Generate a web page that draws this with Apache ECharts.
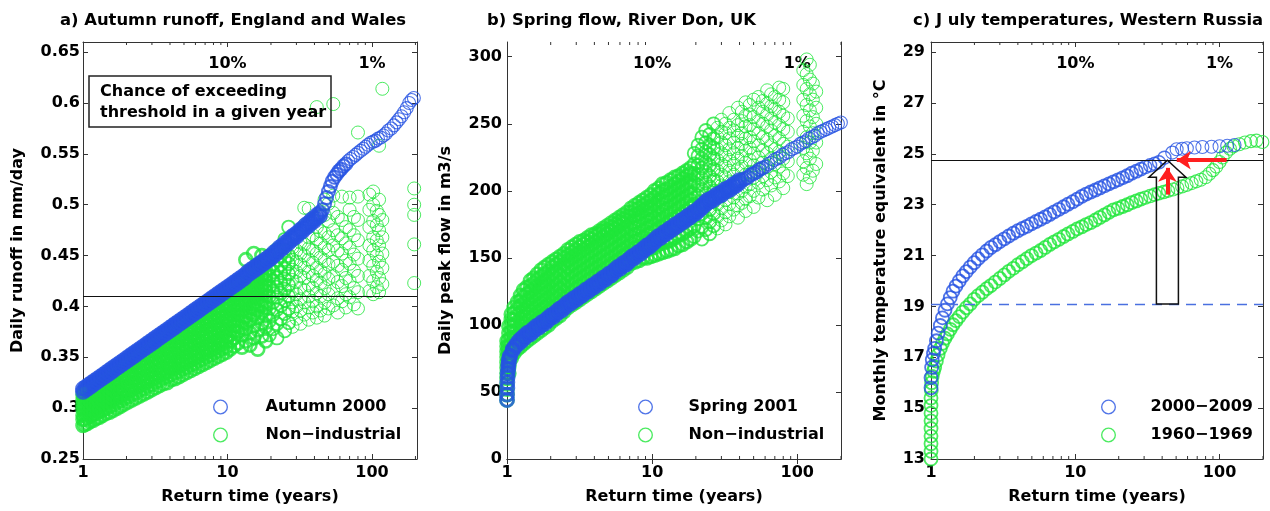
<!DOCTYPE html>
<html>
<head>
<meta charset="utf-8">
<script src="https://cdn.jsdelivr.net/npm/echarts@6/dist/echarts.min.js"></script>
<style>
html, body { margin: 0; padding: 0; background: #fff; }
#chart { width: 1270px; height: 511px; }
</style>
</head>
<body>
<div id="chart"></div>
<script>
// ---------- tick values and labels ----------
const returnTicks = [1, 10, 100];
const minorReturnTicks = [2, 3, 4, 5, 6, 7, 8, 9, 20, 30, 40, 50, 60, 70, 80, 90, 200];
const exceedTicks = [10, 100];
const exceedLabels = ['10%', '1%'];
const runoffTicks = [0.25, 0.3, 0.35, 0.4, 0.45, 0.5, 0.55, 0.6, 0.65];
const flowTicks = [0, 50, 100, 150, 200, 250, 300];
const tempTicks = [13, 15, 17, 19, 21, 23, 25, 27, 29];

// ---------- reference levels ----------
const runoffThreshold = 0.411;
const heatThreshold = 24.75;
const baselineTemp = 19.1;
// hollow arrow: return time, bottom, tip
const heatArrow = [43.5, 19.1, 24.75];
// red arrows: [[x0, y0], [x1, y1]]
const riseArrow = [[43.5, 23.4], [43.5, 24.45]];
const shiftArrow = [[112, 24.75], [50.5, 24.75]];

// ---------- a) Autumn runoff: [return time, [runoff values]] ----------
const autumn2000 = [
[1.000,[.316,.319]],[1.047,[.318,.321]],[1.096,[.320,.323]],[1.148,[.322,.325]],[1.202,[.324,.327]],
[1.259,[.326,.329]],[1.318,[.328,.331]],[1.380,[.330,.333]],[1.445,[.332,.335]],[1.514,[.334,.337]],
[1.585,[.336,.339]],[1.660,[.338,.341]],[1.738,[.340,.343]],[1.820,[.342,.345]],[1.905,[.344,.347]],
[1.995,[.346,.349]],[2.089,[.348,.351]],[2.188,[.350,.353]],[2.291,[.352,.355]],[2.399,[.354,.357]],
[2.512,[.356,.359]],[2.630,[.358,.361]],[2.754,[.360,.363]],[2.884,[.362,.365]],[3.020,[.364,.367]],
[3.162,[.366,.369]],[3.311,[.368,.371]],[3.467,[.370,.373]],[3.631,[.372,.375]],[3.802,[.374,.377]],
[3.981,[.376,.379]],[4.169,[.378,.381]],[4.365,[.380,.383]],[4.571,[.382,.385]],[4.786,[.384,.387]],
[5.012,[.386,.389]],[5.248,[.388,.391]],[5.495,[.390,.393]],[5.754,[.392,.395]],[6.026,[.394,.397]],
[6.310,[.396,.399]],[6.607,[.398,.401]],[6.918,[.400,.403]],[7.244,[.402,.405]],[7.586,[.404,.407]],
[7.943,[.406,.409]],[8.318,[.408,.411]],[8.710,[.410,.413]],[9.120,[.412,.415]],[9.550,[.414,.417]],
[10.00,[.416,.419]],[10.47,[.418,.421]],[10.96,[.420,.423]],[11.48,[.422,.425]],[12.02,[.424,.427]],
[12.59,[.426,.429]],[13.18,[.428,.431]],[13.80,[.431,.434]],[14.45,[.433,.436]],[15.14,[.435,.438]],
[15.85,[.437,.440]],[16.60,[.439,.442]],[17.38,[.441,.444]],[18.20,[.443,.446]],[19.05,[.445,.448]],
[19.95,[.447,.450]],[20.89,[.450,.453]],[21.88,[.452,.455]],[22.91,[.455,.458]],[23.99,[.457,.460]],
[25.12,[.460,.463]],[26.30,[.462,.465]],[27.54,[.465,.468]],[28.84,[.467,.470]],[30.20,[.469,.472]],
[31.62,[.472,.475]],[33.11,[.474,.477]],[34.67,[.477,.480]],[36.31,[.479,.482]],[38.02,[.482,.485]],
[39.81,[.484,.487]],[41.69,[.487,.490]],[43.65,[.489,.492]],
[45.5,[.495]],[47,[.501]],[48.5,[.507]],[50,[.513]],[51.5,[.518]],[53,[.523]],[55,[.527]],[57,[.530]],
[59,[.533]],[61,[.535]],[63.5,[.538]],[66,[.540]],[68.5,[.543]],[71,[.545]],[74,[.547]],[77,[.549]],
[80,[.551]],[83.5,[.553]],[87,[.555]],[90.5,[.557]],[94,[.559]],[98,[.561]],[102,[.562]],[106,[.563]],
[110,[.565]],[115,[.566]],[120,[.568]],[125,[.570]],[130,[.573]],[136,[.575]],[142,[.578]],[148,[.581]],
[154,[.584]],[160,[.587]],[167,[.591]],[174,[.595]],[181,[.600]],[188,[.603]],[195,[.605]]
];

const nonIndustrialA = [
[1.00,[.283,.289,.293,.299,.303,.308,.313]],
[1.03,[.284,.289,.295,.299,.304,.310,.314]],
[1.07,[.285,.291,.295,.300,.306,.310,.315]],
[1.12,[.287,.292,.298,.302,.307,.313,.317]],
[1.18,[.288,.294,.298,.303,.309,.313,.318]],
[1.24,[.290,.295,.301,.305,.310,.316,.320]],
[1.30,[.291,.297,.301,.306,.312,.316,.321]],
[1.37,[.293,.298,.304,.308,.313,.319,.323,.327]],
[1.45,[.295,.300,.306,.310,.315,.321,.325,.329]],
[1.53,[.296,.302,.306,.311,.317,.321,.326,.331]],
[1.62,[.298,.303,.309,.313,.318,.324,.328,.333]],
[1.72,[.300,.306,.310,.315,.321,.325,.330,.335]],
[1.82,[.302,.307,.313,.317,.322,.328,.332,.337]],
[1.93,[.304,.310,.314,.319,.325,.329,.334,.340,.342]],
[2.05,[.306,.311,.317,.321,.326,.332,.336,.341,.344]],
[2.18,[.308,.314,.318,.323,.329,.333,.338,.344,.347]],
[2.32,[.310,.315,.321,.325,.330,.336,.340,.345,.350]],
[2.47,[.312,.318,.322,.327,.333,.337,.342,.348,.352]],
[2.63,[.314,.319,.325,.329,.334,.340,.344,.349,.354]],
[2.80,[.316,.322,.326,.331,.337,.341,.346,.352,.356]],
[2.98,[.318,.323,.329,.333,.338,.344,.348,.353,.358,.361]],
[3.17,[.320,.326,.330,.335,.341,.345,.350,.356,.360,.363]],
[3.37,[.322,.327,.333,.337,.342,.348,.352,.357,.363,.366]],
[3.59,[.324,.330,.334,.339,.345,.349,.354,.360,.364,.368]],
[3.82,[.325,.331,.336,.340,.346,.351,.355,.361,.365,.370]],
[4.07,[.328,.333,.339,.343,.348,.354,.358,.363,.369,.373]],
[4.33,[.329,.335,.339,.344,.350,.354,.359,.365,.369,.374,.377]],
[4.61,[.331,.336,.342,.346,.351,.357,.361,.366,.372,.376,.379]],
[4.91,[.333,.339,.343,.348,.354,.358,.363,.369,.373,.378,.382]],
[5.23,[.335,.340,.346,.350,.355,.361,.365,.370,.376,.380,.385]],
[5.57,[.337,.343,.347,.352,.358,.362,.367,.373,.377,.382,.387]],
[5.93,[.339,.344,.350,.354,.359,.365,.369,.374,.380,.384,.389]],
[6.31,[.341,.347,.351,.356,.362,.366,.371,.377,.381,.386,.391,.393]],
[6.72,[.343,.348,.354,.358,.363,.369,.373,.378,.384,.388,.393,.396]],
[7.16,[.345,.351,.355,.360,.366,.370,.375,.381,.385,.390,.395,.398]],
[7.62,[.347,.352,.358,.362,.367,.373,.377,.382,.388,.392,.397,.401]],
[8.12,[.349,.355,.359,.364,.370,.374,.379,.385,.389,.394,.399,.404]],
[8.65,[.351,.356,.362,.366,.371,.377,.381,.386,.392,.396,.401,.406]],
[9.21,[.353,.359,.363,.368,.374,.378,.383,.389,.393,.398,.403,.408]],
[9.81,[.355,.360,.366,.370,.375,.381,.385,.390,.396,.400,.405,.410]],
[10.4,[.358,.366,.372,.377,.383,.387,.392,.398,.402,.407,.412,.416]],
[11.1,[.361,.369,.376,.381,.386,.392,.396,.401,.407,.411,.416,.420]],
[11.8,[.364,.375,.381,.386,.392,.396,.401,.407,.411,.416,.421,.424]],
[12.6,[.360,.372,.379,.386,.391,.397,.401,.406,.412,.416,.421,.426]],
[13.4,[.366,.378,.384,.390,.395,.401,.405,.410,.416,.420,.425,.429,.446]],
[14.3,[.362,.374,.387,.394,.399,.405,.409,.414,.420,.424,.429,.433]],
[15.2,[.369,.381,.392,.398,.403,.409,.413,.418,.424,.428,.433,.436,.452]],
[16.2,[.358,.377,.389,.397,.402,.408,.412,.417,.423,.427,.432,.438]],
[17.3,[.371,.384,.394,.401,.406,.412,.416,.421,.427,.431,.436,.441,.450]],
[18.4,[.366,.380,.391,.399,.405,.411,.415,.420,.426,.430,.435,.444]],
[19.5,[.372,.386,.398,.410,.420,.430,.438,.450]],
[20.7,[.378,.392,.404,.415,.425,.434,.442]],
[22.0,[.369,.383,.397,.409,.419,.428,.437,.446,.456]],
[23.4,[.388,.401,.413,.423,.433,.441,.450]],
[24.9,[.376,.393,.406,.417,.427,.437,.446,.455,.466]],
[26.5,[.384,.398,.410,.421,.432,.442,.450,.478]],
[28.2,[.380,.395,.404,.415,.426,.436,.446,.458,.468]],
[30.0,[.388,.400,.412,.424,.434,.444,.455,.470]],
[32.0,[.383,.396,.407,.418,.430,.441,.452,.463,.475]],
[34.0,[.392,.404,.416,.428,.438,.450,.461,.480,.497]],
[36.5,[.387,.399,.410,.421,.434,.446,.457,.468,.496]],
[39.0,[.394,.405,.418,.430,.443,.455,.470,.485]],
[41.5,[.389,.400,.413,.426,.438,.452,.466,.478,.596]],
[44.0,[.396,.410,.423,.435,.448,.462,.474,.488]],
[47.0,[.391,.404,.418,.432,.445,.458,.472,.490,.505]],
[50.0,[.398,.412,.427,.441,.455,.468,.484,.501]],
[54.0,[.401,.416,.430,.444,.460,.475,.492,.509,.599]],
[58.0,[.394,.408,.424,.440,.455,.470,.488]],
[62.0,[.405,.420,.436,.452,.467,.485,.508]],
[66.0,[.399,.412,.428,.445,.462,.478]],
[70.0,[.409,.425,.442,.458,.475,.495,.507]],
[75.0,[.402,.418,.435,.451,.470,.488]],
[80.0,[.398,.414,.430,.447,.465,.485,.508,.571]],
[96.0,[.415,.430,.445,.460,.478,.495,.510]],
[102,[.412,.425,.440,.455,.468,.484,.500,.513]],
[108,[.419,.434,.450,.465,.480,.494]],
[112,[.414,.428,.444,.460,.475,.490,.505,.558]],
[118,[.422,.438,.452,.468,.485,.614]],
[196,[.423,.461,.490,.500,.516]]
];

// ---------- b) Spring flow: [return time, [flow values]] ----------
const spring2001 = [
[1.000,[44,48]],[1.005,[53,57]],[1.010,[61,64]],[1.020,[67,70]],[1.030,[72,74]],
[1.047,[76,77]],[1.096,[81,82]],[1.148,[84,85]],[1.202,[86,88]],[1.259,[88,90]],
[1.318,[90,92]],[1.380,[92,94]],[1.445,[93,95]],[1.514,[95,97]],[1.585,[97,99]],
[1.660,[98,100]],[1.738,[100,102]],[1.820,[101,103]],[1.905,[103,105]],[1.995,[105,107]],
[2.089,[106,108]],[2.188,[108,110]],[2.291,[110,112]],[2.399,[111,113]],[2.512,[113,115]],
[2.630,[115,117]],[2.754,[116,118]],[2.884,[118,120]],[3.020,[119,121]],[3.162,[121,123]],
[3.311,[122,124]],[3.467,[124,126]],[3.631,[125,127]],[3.802,[127,129]],[3.981,[128,130]],
[4.169,[130,132]],[4.365,[131,133]],[4.571,[133,135]],[4.786,[134,136]],[5.012,[136,138]],
[5.248,[137,139]],[5.495,[139,141]],[5.754,[141,143]],[6.026,[142,144]],[6.310,[144,146]],
[6.607,[145,147]],[6.918,[147,149]],[7.244,[149,151]],[7.586,[150,152]],[7.943,[152,154]],
[8.318,[153,155]],[8.710,[155,157]],[9.120,[157,159]],[9.550,[158,160]],[10.00,[160,162]],
[10.47,[162,164]],[10.96,[164,166]],[11.48,[165,167]],[12.02,[167,169]],[12.59,[168,170]],
[13.18,[170,172]],[13.80,[171,173]],[14.45,[173,175]],[15.14,[174,176]],[15.85,[176,178]],
[16.60,[177,179]],[17.38,[179,181]],[18.20,[180,182]],[19.05,[182,184]],[19.95,[183,185]],
[20.89,[185,187]],[21.88,[187,189]],[22.91,[189,191]],[23.99,[191,193]],[25.12,[192,194]],
[26.30,[193,195]],[27.54,[195,197]],[28.84,[196,198]],[30.20,[197,199]],[31.62,[199,201]],
[33.11,[200,202]],[34.67,[201,203]],[36.31,[203,205]],[38.02,[204,206]],[39.81,[206,208]],
[41.69,[208]],[43.65,[209]],[45.71,[210]],[47.86,[212]],[50.12,[213]],[52.48,[214]],[54.95,[216]],
[57.54,[217]],[60.26,[218]],[63.10,[220]],[66.07,[221]],[69.18,[223]],[72.44,[224]],[75.86,[225]],
[79.43,[227]],[83.18,[228]],[87.10,[229]],[91.20,[231]],[95.50,[232]],[100.0,[233]],[104.7,[235]],
[109.6,[236]],[114.8,[237]],[120.2,[239]],[125.9,[240]],[131.8,[241]],[138.0,[243]],[144.5,[244]],
[151.4,[245]],[158.5,[246]],[166.0,[247]],[173.8,[248]],[182.0,[249]],[190.5,[250]],[199.5,[251]]
];

const nonIndustrialB = [
[1.00,[44,48,52,56,60,64,68,72,76,80,84,88]],
[1.03,[64,69,74,79,84,89,94,99]],
[1.07,[75,80,85,90,95,100,104,108]],
[1.12,[79,84,89,94,99,104,109,113]],
[1.18,[82,87,92,97,102,107,112,117]],
[1.24,[84,89,94,99,104,109,114,118,122]],
[1.30,[86,91,96,101,106,111,116,121,126]],
[1.37,[88,93,98,103,108,113,118,123,128]],
[1.45,[90,95,100,105,110,115,120,125,129,133]],
[1.53,[92,97,102,107,112,117,122,127,131,135]],
[1.62,[94,99,104,109,114,119,124,129,134,138]],
[1.72,[96,101,106,111,116,121,126,131,136,141]],
[1.82,[98,103,108,113,118,123,128,133,138,143]],
[1.93,[100,105,110,115,120,125,130,135,140,145]],
[2.05,[103,108,113,118,123,128,133,138,143,147]],
[2.18,[105,110,115,120,125,130,135,140,145,149]],
[2.32,[107,112,117,122,127,132,137,142,147,151]],
[2.47,[110,115,120,125,130,135,140,145,150,153]],
[2.63,[113,118,123,128,133,138,143,148,152,156]],
[2.80,[115,120,125,130,135,140,145,150,154,158]],
[2.98,[117,122,127,132,137,142,147,152,156,160]],
[3.17,[119,124,129,134,139,144,149,154,158,162]],
[3.37,[121,126,131,136,141,146,151,156,160,163]],
[3.59,[123,128,133,138,143,148,153,158,162,165]],
[3.82,[125,130,135,140,145,150,155,160,164,167]],
[4.07,[127,132,137,142,147,152,157,162,166,168]],
[4.33,[129,134,139,144,149,154,159,164,168,170]],
[4.61,[131,136,141,146,151,156,161,166,170,172]],
[4.91,[133,138,143,148,153,158,163,168,171,174]],
[5.23,[135,140,145,150,155,160,165,170,173,176]],
[5.57,[137,142,147,152,157,162,167,172,175,178]],
[5.93,[139,144,149,154,159,164,169,174,177,180]],
[6.31,[141,146,151,156,161,166,171,176,179,182]],
[6.72,[143,148,153,158,163,168,173,178,181,184]],
[7.16,[146,151,156,161,166,171,176,181,184,187]],
[7.62,[147,152,157,162,167,172,177,182,186,189]],
[8.12,[148,153,158,163,168,173,178,183,187,191]],
[8.65,[150,155,160,165,170,175,180,185,189,193]],
[9.21,[150,156,162,167,172,177,182,187,191,195]],
[9.81,[151,157,163,168,173,178,183,188,193,197]],
[10.4,[152,158,164,170,175,180,185,190,195,200]],
[11.1,[153,160,166,172,178,183,188,193,198,202]],
[11.8,[154,161,167,173,179,185,190,195,200,205]],
[12.6,[155,162,169,175,181,186,191,196,201,206]],
[13.4,[156,163,170,177,183,188,193,198,203,208]],
[14.3,[157,165,172,179,185,190,195,200,205,210]],
[15.2,[159,167,174,181,187,192,197,202,207,211]],
[16.2,[160,168,176,183,189,194,199,204,209,213]],
[17.3,[162,170,178,185,191,196,201,206,211,215]],
[18.4,[164,172,180,187,193,198,203,208,213,217]],
[19.5,[166,174,182,190,198,206,213,220,228]],
[20.7,[170,179,188,196,204,212,219,226,234]],
[22.0,[164,173,183,192,201,209,217,224,231,240]],
[23.4,[171,180,189,198,206,214,221,229,236,245]],
[24.9,[168,177,186,195,203,211,219,227,234,242]],
[26.5,[174,183,192,200,208,216,224,232,239,250]],
[28.2,[172,181,190,199,207,215,223,231,240,247]],
[30.0,[178,187,196,204,212,220,228,236,244,253]],
[32.0,[175,184,193,202,210,218,226,234,243,250]],
[34.0,[181,190,199,207,215,223,231,239,247,258]],
[36.5,[186,195,204,212,220,228,236,245,253]],
[39.0,[180,189,198,207,216,224,232,241,249,262]],
[41.5,[191,200,209,218,226,235,243,252,259]],
[44.0,[185,194,203,212,221,230,239,248,256,266]],
[47.0,[196,205,214,223,232,240,249,257,264]],
[50.0,[188,200,210,219,228,237,246,255,268]],
[54.0,[195,206,216,225,234,243,252,262,270]],
[58.0,[201,211,221,230,240,250,259,267]],
[62.0,[193,208,218,228,238,248,257,265,275]],
[66.0,[204,214,224,234,245,254,263,272]],
[70.0,[197,210,220,231,241,251,261,270]],
[75.0,[207,218,229,239,249,259,268,277]],
[80.0,[202,213,224,235,246,256,266,276]],
[86.0,[211,222,233,244,254]],
[110,[212,222,232,244,256,268,279,290]],
[116,[205,217,228,240,252,264,276,287,298]],
[122,[210,224,236,248,260,272,283,294]],
[128,[215,230,243,255,268,280]],
[135,[220,236,250,262,274]]
];

// ---------- c) July temperatures: [return time, temperature] ----------
const july2000s = [
[1.00,15.8],[1.00,16.2],[1.01,16.6],[1.02,16.9],[1.04,17.15],[1.06,17.35],[1.09,17.65],[1.12,17.95],
[1.16,18.25],[1.20,18.55],[1.25,18.85],[1.30,19.1],[1.36,19.35],[1.42,19.6],[1.49,19.8],[1.57,20.0],
[1.66,20.2],[1.76,20.37],[1.87,20.55],[1.99,20.72],[2.12,20.88],[2.27,21.03],[2.43,21.18],[2.60,21.32],
[2.79,21.43],[3.00,21.55],[3.22,21.66],[3.46,21.77],[3.72,21.88],[4.00,21.98],[4.30,22.07],[4.62,22.15],
[4.97,22.25],[5.35,22.34],[5.75,22.43],[6.18,22.52],[6.65,22.62],[7.15,22.72],[7.70,22.82],[8.30,22.92],
[8.90,23.02],[9.60,23.12],[10.3,23.22],[11.1,23.33],[11.9,23.42],[12.8,23.5],[13.8,23.58],[14.8,23.66],
[15.9,23.74],[17.1,23.82],[18.4,23.9],[19.8,23.98],[21.3,24.06],[22.9,24.14],[24.6,24.24],[26.5,24.32],
[28.5,24.4],[30.6,24.48],[33.0,24.55],[35.5,24.61],[38.0,24.67],[41.5,24.85],[47.0,25.05],[50.4,25.18],
[55.0,25.2],[59.3,25.22],[67.0,25.25],[76.0,25.27],[88.0,25.28],[100,25.3],[113,25.32],[127,25.35]
];

const july1960s = [
[1.00,13.0],[1.00,13.3],[1.00,13.6],[1.00,13.9],[1.00,14.2],[1.00,14.5],[1.00,14.8],[1.00,15.1],[1.00,15.4],
[1.005,15.7],[1.01,16.0],[1.02,16.25],[1.04,16.45],[1.06,16.6],[1.09,16.85],[1.12,17.1],[1.16,17.35],
[1.20,17.55],[1.25,17.75],[1.30,17.92],[1.36,18.1],[1.42,18.28],[1.49,18.44],[1.57,18.6],[1.66,18.78],
[1.76,18.95],[1.87,19.1],[1.99,19.28],[2.12,19.42],[2.27,19.56],[2.43,19.7],[2.60,19.82],[2.79,19.96],
[3.00,20.1],[3.22,20.24],[3.46,20.38],[3.72,20.5],[4.00,20.64],[4.30,20.76],[4.62,20.88],[4.97,21.0],
[5.35,21.1],[5.75,21.2],[6.18,21.32],[6.65,21.44],[7.15,21.54],[7.70,21.64],[8.30,21.75],[8.90,21.85],
[9.60,21.95],[10.3,22.05],[11.1,22.13],[11.9,22.22],[12.8,22.3],[13.8,22.4],[14.8,22.5],[15.9,22.6],
[17.1,22.7],[18.4,22.8],[19.8,22.86],[21.3,22.93],[22.9,23.0],[24.6,23.08],[26.5,23.15],[28.5,23.22],
[30.6,23.28],[33.0,23.34],[35.5,23.4],[38.0,23.45],[41.0,23.5],[44.0,23.55],[47.5,23.6],[51.0,23.66],
[55.0,23.72],[59.0,23.78],[64.0,23.85],[69.0,23.92],[74.0,23.98],[80.0,24.08],[85.0,24.22],[90.0,24.36],
[95.0,24.5],[100,24.68],[105,24.86],[111,25.05],[118,25.2],[125,25.3],[137,25.38],[150,25.45],
[165,25.5],[180,25.52],[198,25.47]
];

// ---------- drawing ----------
const FONT = "'DejaVu Sans', 'Liberation Sans', sans-serif";
const BLUE = '#2653e2';
const GREEN = '#1fe63a';
const RED = '#ff1f1f';
const AXIS = '#333';
const RING = 'path://M50,0A50,50,0,1,1,50,100A50,50,0,1,1,50,0ZM50,9A41,41,0,1,0,50,91A41,41,0,1,0,50,9Z';

const columnsToPoints = cols => cols.flatMap(([x, ys]) => (Array.isArray(ys) ? ys : [ys]).map(y => [x, y]));

// heavier ring strokes where the ensemble is packed tightly, easing to thin rings in the tail
const ringItems = (points, denseUpTo, denseWidth, sparseWidth) =>
  points.map(pt => {
    const x = pt[0];
    const w = x <= denseUpTo ? denseWidth
      : x <= denseUpTo * 1.5 ? (denseWidth + sparseWidth) / 2
      : sparseWidth;
    return { value: pt, itemStyle: { borderWidth: w } };
  });

const boldText = { fontFamily: FONT, fontSize: 16, fontWeight: 'bold', color: '#000' };

const panels = [
  { left: 83, width: 334, xMax: 205, yMin: 0.25, yMax: 0.66, yTicks: runoffTicks,
    yName: 'Daily runoff in mm/day', yNameGap: 57, yLabelMargin: 3,
    title: 'a) Autumn runoff, England and Wales', titleLeft: 60,
    legendLeft: 213, legendItemWidth: 80,
    blueName: 'Autumn 2000', greenName: 'Non\u2212industrial',
    blue: ringItems(columnsToPoints(autumn2000), 44, 2.9, 1.1),
    green: ringItems(columnsToPoints(nonIndustrialA), 18.5, 2.6, 1) },
  { left: 507, width: 334, xMax: 200, yMin: 0, yMax: 311, yTicks: flowTicks,
    yName: 'Daily peak flow in m3/s', yNameGap: 53, yLabelMargin: 5,
    title: 'b) Spring flow, River Don, UK', titleLeft: 487,
    legendLeft: 638, legendItemWidth: 76,
    blueName: 'Spring 2001', greenName: 'Non\u2212industrial',
    blue: ringItems(columnsToPoints(spring2001), 40, 2.9, 1.1),
    green: ringItems(columnsToPoints(nonIndustrialB), 18.5, 2.6, 1) },
  { left: 931, width: 332, xMax: 200, yMin: 13, yMax: 29.4, yTicks: tempTicks,
    yName: 'Monthly temperature equivalent in \u00B0C', yNameGap: 42, yLabelMargin: 6,
    title: 'c) J uly temperatures, Western Russia', titleLeft: 913,
    legendLeft: 1101, legendItemWidth: 74,
    blueName: '2000\u22122009', greenName: '1960\u22121969',
    blue: ringItems(july2000s, 30, 1.8, 1.1),
    green: ringItems(july1960s, 30, 1.8, 1.1) }
];

const grid = [], xAxis = [], yAxis = [], legend = [], series = [];
const title = [];

panels.forEach((p, i) => {
  grid.push({ left: p.left, top: 42, width: p.width, height: 417 });
  title.push({ text: p.title, left: p.titleLeft, top: 11, padding: 0,
    textStyle: Object.assign({}, boldText, { fontSize: 16.4, lineHeight: 20 }) });

  xAxis.push({
    type: 'log', logBase: 10, gridIndex: i, position: 'bottom', min: 1, max: p.xMax,
    axisLine: { show: true, lineStyle: { color: AXIS, width: 1 } },
    axisTick: { show: true, inside: true, length: 5, customValues: returnTicks, lineStyle: { color: AXIS } },
    axisLabel: Object.assign({ customValues: returnTicks, margin: 6, formatter: v => String(Math.round(v)) }, boldText),
    minorTick: { show: false }, splitLine: { show: false },
    name: 'Return time (years)', nameLocation: 'middle', nameGap: 30,
    nameTextStyle: boldText
  });
  xAxis.push({
    type: 'log', logBase: 10, gridIndex: i, position: 'top', min: 1, max: p.xMax,
    axisLine: { show: true, lineStyle: { color: AXIS, width: 1 } },
    axisTick: { show: true, inside: true, length: 5, customValues: returnTicks, lineStyle: { color: AXIS } },
    axisLabel: Object.assign({ inside: true, customValues: exceedTicks, margin: 14,
      formatter: v => exceedLabels[exceedTicks.indexOf(Math.round(v))] || '' }, boldText),
    splitLine: { show: false }
  });
  yAxis.push({
    type: 'value', gridIndex: i, position: 'left', min: p.yMin, max: p.yMax,
    axisLine: { show: true, lineStyle: { color: AXIS, width: 1 } },
    axisTick: { show: true, inside: true, length: 5, customValues: p.yTicks, lineStyle: { color: AXIS } },
    axisLabel: Object.assign({ customValues: p.yTicks, margin: p.yLabelMargin }, boldText),
    splitLine: { show: false },
    name: p.yName, nameLocation: 'middle', nameGap: p.yNameGap, nameTextStyle: boldText
  });
  yAxis.push({
    type: 'value', gridIndex: i, position: 'right', min: p.yMin, max: p.yMax,
    axisLine: { show: true, lineStyle: { color: AXIS, width: 1 } },
    axisTick: { show: true, inside: true, length: 5, customValues: p.yTicks, lineStyle: { color: AXIS } },
    axisLabel: { show: false }, splitLine: { show: false }
  });

  legend.push({
    orient: 'vertical', left: p.legendLeft, top: 399, padding: 0,
    itemWidth: p.legendItemWidth, itemHeight: 15, itemGap: 12, selectedMode: false,
    textStyle: boldText,
    itemStyle: { borderWidth: 0 },
    data: [
      { name: p.blueName, icon: RING, itemStyle: { color: BLUE, borderWidth: 0 } },
      { name: p.greenName, icon: RING, itemStyle: { color: GREEN, borderWidth: 0 } }
    ]
  });

  const ax = { xAxisIndex: 2 * i, yAxisIndex: 2 * i };
  const ring = color => ({ color: 'rgba(0,0,0,0)', borderColor: color, borderWidth: 1 });

  series.push(Object.assign({
    type: 'scatter', name: p.greenName, data: p.green, symbol: 'circle', symbolSize: 13,
    itemStyle: ring(GREEN), silent: true, clip: false, animation: false, large: false, z: 2
  }, ax));

  const blueSeries = Object.assign({
    type: 'scatter', name: p.blueName, data: p.blue, symbol: 'circle', symbolSize: 13,
    itemStyle: ring(BLUE), silent: true, clip: false, animation: false, large: false, z: 3
  }, ax);
  if (i === 0) {
    blueSeries.markLine = { silent: true, symbol: 'none', animation: false, label: { show: false },
      lineStyle: { color: '#111', width: 1, type: 'solid' }, data: [{ yAxis: runoffThreshold }] };
  }
  if (i === 2) {
    blueSeries.markLine = { silent: true, symbol: 'none', animation: false, label: { show: false },
      data: [
        { yAxis: heatThreshold, lineStyle: { color: '#111', width: 1, type: 'solid' } },
        { yAxis: baselineTemp, lineStyle: { color: '#4a70e0', width: 1.3, type: [10, 7] } }
      ] };
  }
  series.push(blueSeries);

  // minor ticks of the log axes, top and bottom edges
  series.push(Object.assign({
    type: 'custom', silent: true, animation: false, z: 6, clip: false,
    data: minorReturnTicks.filter(v => v <= p.xMax).map(v => [v, p.yMin]),
    renderItem: (params, api) => {
      const cs = params.coordSys;
      const x = api.coord([api.value(0), api.value(1)])[0];
      const st = { stroke: AXIS, lineWidth: 1 };
      return { type: 'group', children: [
        { type: 'line', shape: { x1: x, y1: cs.y + cs.height, x2: x, y2: cs.y + cs.height - 3 }, style: st },
        { type: 'line', shape: { x1: x, y1: cs.y, x2: x, y2: cs.y + 3 }, style: st }
      ] };
    }
  }, ax));
});

// hollow arrow from baseline up to the threshold (panel c)
series.push({
  type: 'custom', xAxisIndex: 4, yAxisIndex: 4, silent: true, animation: false, z: 8, clip: false,
  data: [heatArrow],
  renderItem: (params, api) => {
    const base = api.coord([api.value(0), api.value(1)]);
    const tip = api.coord([api.value(0), api.value(2)]);
    const x = base[0], sh = 11, hh = 18.5, hl = 17;
    const yh = tip[1] + hl;
    return { type: 'polygon',
      shape: { points: [[x - sh, base[1]], [x - sh, yh], [x - hh, yh], [x, tip[1]], [x + hh, yh], [x + sh, yh], [x + sh, base[1]]] },
      style: { fill: 'none', stroke: '#111', lineWidth: 1.5 } };
  }
});

// red arrows (panel c)
series.push({
  type: 'lines', coordinateSystem: 'cartesian2d', xAxisIndex: 4, yAxisIndex: 4,
  silent: true, animation: false, z: 9,
  symbol: ['none', 'arrow'], symbolSize: 14,
  lineStyle: { color: RED, width: 4, opacity: 1 },
  data: [{ coords: riseArrow }, { coords: shiftArrow }]
});

// exceedance note box (panel a)
title.push({
  text: 'Chance of exceeding\nthreshold in a given year', left: 89, top: 76,
  borderColor: '#222', borderWidth: 1.5, padding: [5, 5, 4, 11],
  textStyle: Object.assign({}, boldText, { lineHeight: 21 })
});

const chart = echarts.init(document.getElementById('chart'), null, { renderer: 'canvas' });
chart.setOption({
  animation: false,
  backgroundColor: '#fff',
  title, grid, xAxis, yAxis, legend, series
});
</script>
</body>
</html>
